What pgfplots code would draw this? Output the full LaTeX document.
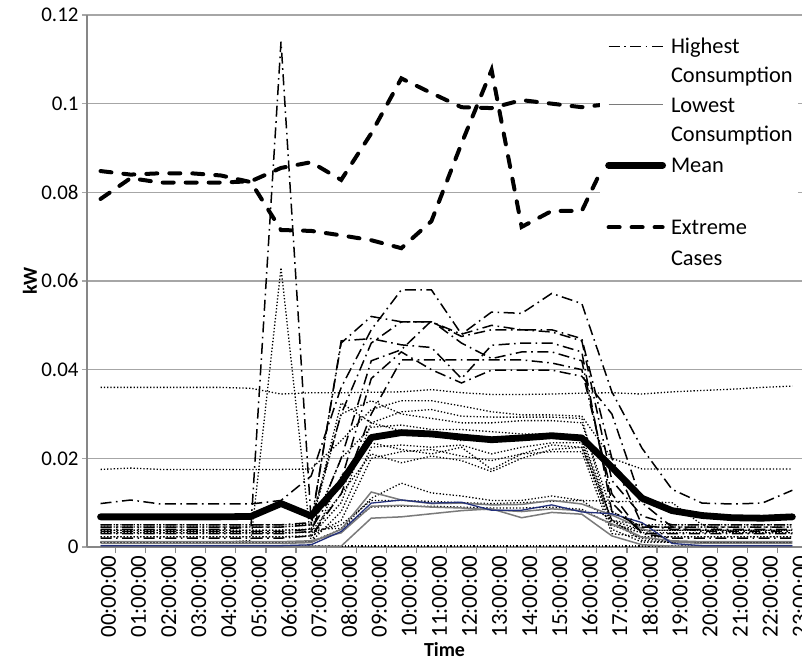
\documentclass[border=0pt]{standalone}
\usepackage{fontspec}
\setmainfont{Carlito}
\usepackage{pgfplots}
\usepackage{pgfplotstable}
\pgfplotsset{compat=1.18}
\definecolor{gridgray}{HTML}{A6A6A6}
\definecolor{axisgray}{HTML}{878787}
\definecolor{lowgray}{HTML}{7A7A7A}
\definecolor{navy}{HTML}{23307A}
\newcommand\tickfont{\fontsize{21}{25}\selectfont}
\newcommand\xtickfont{\fontsize{23}{27}\selectfont}
\newcommand\legfont{\fontsize{22.5}{30}\selectfont}

\pgfplotstableread{
h X1 X2 M
0 0.0785 0.0848 0.0068
1 0.0832 0.0840 0.0068
2 0.0822 0.0843 0.0068
3 0.0822 0.0843 0.0068
4 0.0822 0.0838 0.0068
5 0.0825 0.0823 0.0069
6 0.0855 0.0715 0.0098
7 0.0868 0.0713 0.0070
8 0.0828 0.0703 0.0145
9 0.0933 0.0692 0.0247
10 0.1057 0.0674 0.0258
11 0.1024 0.0735 0.0255
12 0.0992 0.0910 0.0248
13 0.0990 0.1076 0.0242
14 0.1008 0.0722 0.0246
15 0.1000 0.0758 0.0251
16 0.0992 0.0758 0.0246
17 0.1000 0.0900 0.0180
18 0.1000 0.0900 0.0110
19 0.1000 0.0900 0.0082
20 0.1000 0.0900 0.0071
21 0.1000 0.0900 0.0066
22 0.1000 0.0900 0.0065
23 0.1000 0.0900 0.0068
}\mainT

\pgfplotstableread{
h H1 H2 H3 H4 H5 H6 H7
0 0.0098 0.0040 0.0045 0.0030 0.0020 0.0035 0.0050
1 0.0106 0.0040 0.0045 0.0030 0.0020 0.0035 0.0050
2 0.0097 0.0040 0.0045 0.0030 0.0020 0.0035 0.0050
3 0.0097 0.0040 0.0045 0.0030 0.0020 0.0035 0.0050
4 0.0097 0.0040 0.0045 0.0030 0.0020 0.0035 0.0050
5 0.0097 0.0045 0.0045 0.0030 0.0020 0.0035 0.0050
6 0.0105 0.1140 0.0045 0.0030 0.0020 0.0035 0.0050
7 0.0160 0.0060 0.0050 0.0035 0.0025 0.0040 0.0055
8 0.0360 0.0300 0.0465 0.0200 0.0120 0.0150 0.0460
9 0.0490 0.0460 0.0470 0.0420 0.0300 0.0380 0.0520
10 0.0580 0.0508 0.0456 0.0445 0.0422 0.0440 0.0508
11 0.0580 0.0508 0.0450 0.0510 0.0422 0.0400 0.0508
12 0.0480 0.0480 0.0380 0.0460 0.0422 0.0370 0.0475
13 0.0530 0.0500 0.0455 0.0425 0.0422 0.0399 0.0490
14 0.0527 0.0490 0.0460 0.0440 0.0422 0.0399 0.0490
15 0.0572 0.0490 0.0460 0.0440 0.0415 0.0399 0.0485
16 0.0549 0.0470 0.0440 0.0420 0.0400 0.0385 0.0465
17 0.0350 0.0200 0.0080 0.0100 0.0120 0.0300 0.0150
18 0.0223 0.0050 0.0045 0.0030 0.0030 0.0100 0.0070
19 0.0130 0.0040 0.0045 0.0030 0.0020 0.0045 0.0050
20 0.0099 0.0040 0.0045 0.0030 0.0020 0.0035 0.0050
21 0.0097 0.0040 0.0045 0.0030 0.0020 0.0035 0.0050
22 0.0099 0.0040 0.0045 0.0030 0.0020 0.0035 0.0050
23 0.0128 0.0040 0.0045 0.0030 0.0020 0.0035 0.0050
}\highT

\pgfplotstableread{
h L1 L2 L3 B
0 0.0002 0.0008 0.0012 0.0003
1 0.0002 0.0008 0.0012 0.0003
2 0.0002 0.0008 0.0012 0.0003
3 0.0002 0.0008 0.0012 0.0003
4 0.0002 0.0008 0.0012 0.0003
5 0.0002 0.0008 0.0012 0.0003
6 0.0002 0.0008 0.0012 0.0003
7 0.0002 0.0010 0.0014 0.0005
8 0.0002 0.0040 0.0032 0.0035
9 0.0065 0.0124 0.0092 0.0099
10 0.0068 0.0106 0.0094 0.0106
11 0.0075 0.0098 0.0090 0.0099
12 0.0082 0.0099 0.0088 0.0101
13 0.0086 0.0095 0.0084 0.0083
14 0.0066 0.0096 0.0080 0.0083
15 0.0078 0.0105 0.0086 0.0095
16 0.0074 0.0097 0.0082 0.0079
17 0.0025 0.0072 0.0052 0.0075
18 0.0005 0.0042 0.0022 0.0055
19 0.0002 0.0012 0.0014 0.0008
20 0.0002 0.0008 0.0012 0.0003
21 0.0002 0.0008 0.0012 0.0003
22 0.0002 0.0008 0.0012 0.0003
23 0.0002 0.0008 0.0012 0.0003
}\lowT

\pgfplotstableread{
h D1 D2 D3 D4 D5 D6 D7 D8 D9 D10 D11 D12 D13 D14
0 0.0360 0.0175 0.0010 0.0050 0.0023 0.0038 0.0011 0.0032 0.0023 0.0011 0.0032 0.0038 0.0002 0.0045
1 0.0360 0.0178 0.0010 0.0050 0.0023 0.0038 0.0011 0.0032 0.0023 0.0011 0.0032 0.0038 0.0002 0.0045
2 0.0360 0.0175 0.0010 0.0050 0.0023 0.0038 0.0011 0.0032 0.0023 0.0011 0.0032 0.0038 0.0002 0.0045
3 0.0360 0.0175 0.0010 0.0050 0.0023 0.0038 0.0011 0.0032 0.0023 0.0011 0.0032 0.0038 0.0002 0.0045
4 0.0360 0.0175 0.0010 0.0050 0.0023 0.0038 0.0011 0.0032 0.0023 0.0011 0.0032 0.0038 0.0002 0.0045
5 0.0358 0.0175 0.0015 0.0050 0.0023 0.0038 0.0011 0.0032 0.0023 0.0011 0.0032 0.0038 0.0002 0.0045
6 0.0345 0.0175 0.0630 0.0050 0.0023 0.0038 0.0011 0.0032 0.0023 0.0011 0.0032 0.0038 0.0002 0.0045
7 0.0348 0.0176 0.0010 0.0052 0.0025 0.0040 0.0012 0.0034 0.0025 0.0012 0.0033 0.0040 0.0002 0.0050
8 0.0348 0.0240 0.0160 0.0325 0.0100 0.0200 0.0080 0.0120 0.0060 0.0040 0.0050 0.0042 0.0002 0.0300
9 0.0349 0.0310 0.0235 0.0280 0.0280 0.0270 0.0225 0.0210 0.0200 0.0110 0.0105 0.0090 0.0002 0.0330
10 0.0350 0.0330 0.0220 0.0262 0.0305 0.0275 0.0230 0.0190 0.0215 0.0144 0.0105 0.0092 0.0002 0.0300
11 0.0355 0.0330 0.0210 0.0252 0.0310 0.0265 0.0225 0.0205 0.0220 0.0122 0.0103 0.0092 0.0002 0.0290
12 0.0348 0.0318 0.0225 0.0240 0.0295 0.0265 0.0230 0.0195 0.0205 0.0115 0.0100 0.0090 0.0002 0.0280
13 0.0344 0.0305 0.0175 0.0245 0.0293 0.0260 0.0210 0.0170 0.0195 0.0105 0.0098 0.0088 0.0002 0.0280
14 0.0344 0.0298 0.0210 0.0250 0.0293 0.0255 0.0225 0.0200 0.0210 0.0105 0.0100 0.0088 0.0002 0.0285
15 0.0345 0.0298 0.0230 0.0245 0.0293 0.0255 0.0235 0.0220 0.0215 0.0115 0.0103 0.0090 0.0002 0.0285
16 0.0347 0.0295 0.0225 0.0240 0.0290 0.0250 0.0235 0.0225 0.0215 0.0105 0.0105 0.0085 0.0002 0.0280
17 0.0348 0.0200 0.0060 0.0060 0.0050 0.0060 0.0040 0.0050 0.0030 0.0060 0.0103 0.0050 0.0002 0.0080
18 0.0345 0.0176 0.0015 0.0050 0.0023 0.0038 0.0011 0.0032 0.0023 0.0020 0.0102 0.0038 0.0002 0.0045
19 0.0350 0.0176 0.0010 0.0050 0.0023 0.0038 0.0011 0.0032 0.0023 0.0011 0.0100 0.0038 0.0002 0.0045
20 0.0353 0.0176 0.0010 0.0050 0.0023 0.0038 0.0011 0.0032 0.0023 0.0011 0.0050 0.0038 0.0002 0.0045
21 0.0356 0.0176 0.0010 0.0050 0.0023 0.0038 0.0011 0.0032 0.0023 0.0011 0.0032 0.0038 0.0002 0.0045
22 0.0360 0.0176 0.0010 0.0050 0.0023 0.0038 0.0011 0.0032 0.0023 0.0011 0.0032 0.0038 0.0002 0.0045
23 0.0363 0.0176 0.0010 0.0050 0.0023 0.0038 0.0011 0.0032 0.0023 0.0011 0.0032 0.0038 0.0002 0.0045
}\dotT

\tikzset{
  dotS/.style={black, line width=1.3bp, dash pattern=on 1.3bp off 2bp},
  highS/.style={black, line width=1.5bp, dash pattern=on 11bp off 4.5bp on 1.6bp off 4.5bp},
  lowS/.style={lowgray, line width=1.5bp},
  blueS/.style={navy, line width=1.3bp},
  meanS/.style={black, line width=6.8bp, line join=round, line cap=round},
  extS/.style={black, line width=4bp, line cap=round, dash pattern=on 11bp off 12bp},
  noneS/.style={draw opacity=0, opacity=0, draw=white},
}

\begin{document}
\begin{tikzpicture}
\useasboundingbox (0,0) rectangle (802bp,662bp);
\begin{axis}[
  at={(87bp,115bp)}, anchor=south west,
  scale only axis, width=715bp, height=532bp,
  xmin=-0.45, xmax=23.32, ymin=0, ymax=0.12,
  clip=false,
  axis x line*=bottom, axis y line*=left,
  axis line style={draw=axisgray, line width=1.3bp},
  xtick={0,...,23},
  xticklabels={00:00:00,01:00:00,02:00:00,03:00:00,04:00:00,05:00:00,06:00:00,07:00:00,08:00:00,09:00:00,10:00:00,11:00:00,12:00:00,13:00:00,14:00:00,15:00:00,16:00:00,17:00:00,18:00:00,19:00:00,20:00:00,21:00:00,22:00:00,23:00:00},
  minor xtick={-0.5,0.5,1.5,2.5,3.5,4.5,5.5,6.5,7.5,8.5,9.5,10.5,11.5,12.5,13.5,14.5,15.5,16.5,17.5,18.5,19.5,20.5,21.5,22.5},
  ytick={0,0.02,0.04,0.06,0.08,0.1,0.12},
  scaled y ticks=false,
  yticklabel style={/pgf/number format/fixed, /pgf/number format/precision=2, font=\tickfont},
  /pgf/number format/assume math mode=true,
  tick align=outside,
  major tick length=5bp, minor tick length=6bp,
  major x tick style={draw=none},
  minor x tick style={draw=axisgray, line width=1.2bp},
  major y tick style={draw=gridgray, line width=1.3bp},
  ymajorgrids,
  major grid style={draw=gridgray, line width=1.3bp},
  xticklabel style={rotate=90, anchor=east, font=\xtickfont, yshift=-8bp},
  xlabel={Time},
  xlabel style={font=\fontsize{20}{24}\selectfont\bfseries, at={(axis description cs:0.5,0)}, anchor=center, yshift=-103bp},
  ylabel={kW},
  ylabel style={font=\fontsize{20}{24}\selectfont\bfseries, at={(axis description cs:0,0.5)}, anchor=center, yshift=57bp},
  legend image code/.code={\path (0bp,-8.4bp) (0bp,19.7bp); \draw[#1] (0bp,7.5bp) -- (54bp,7.5bp);},
  legend style={at={(0.7175,0.975)}, anchor=north west, fill=white, draw=none,
    inner xsep=5bp, inner ysep=5bp, row sep=0bp, column sep=5bp,
    cells={anchor=base west}, nodes={inner sep=0bp}, font=\legfont},
]
% dotted households
\foreach \c in {D1,D2,D3,D4,D5,D6,D7,D8,D9,D10,D11,D12,D13,D14}{
  \addplot[dotS, forget plot] table[x=h, y=\c] {\dotT};
}
% lowest consumption
\addplot[lowS, forget plot] table[x=h, y=L1] {\lowT};
\addplot[lowS, forget plot] table[x=h, y=L2] {\lowT};
\addplot[lowS, forget plot] table[x=h, y=L3] {\lowT};
\addplot[blueS, forget plot] table[x=h, y=B] {\lowT};
% highest consumption
\foreach \c in {H1,H2,H3,H4,H5,H6,H7}{
  \addplot[highS, forget plot] table[x=h, y=\c] {\highT};
}
% mean and extremes
\addplot[meanS, forget plot] table[x=h, y=M] {\mainT};
\addplot[extS, forget plot] table[x=h, y=X1] {\mainT};
\addplot[extS, forget plot] table[x=h, y=X2] {\mainT};

\addlegendimage{highS}
\addlegendimage{noneS}
\addlegendimage{lowS}
\addlegendimage{noneS}
\addlegendimage{meanS}
\addlegendimage{noneS}
\addlegendimage{extS, dash phase=0bp}
\addlegendimage{noneS}
\legend{Highest,Consumption,Lowest,Consumption,Mean,\mbox{},Extreme,Cases}
\end{axis}
\end{tikzpicture}
\end{document}
